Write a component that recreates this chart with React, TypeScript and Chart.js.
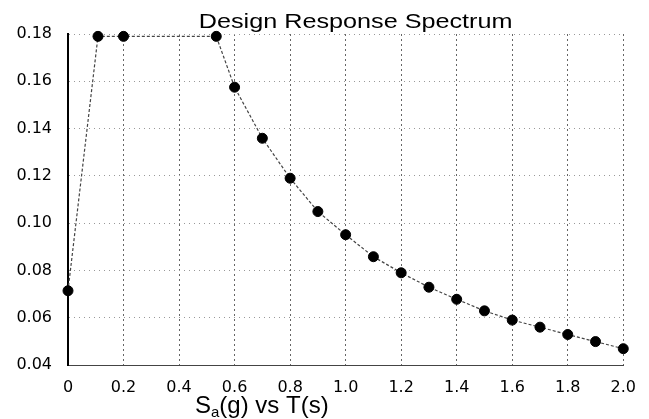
import React, { useEffect, useRef } from 'react';
import { Chart, registerables } from 'chart.js';

Chart.register(...registerables);

const chartTitle = 'Design Response Spectrum';
const periods = [0, 0.108, 0.2, 0.534, 0.6, 0.7, 0.8, 0.9, 1.0, 1.1, 1.2, 1.3, 1.4, 1.5, 1.6, 1.7, 1.8, 1.9, 2.0];
const spectralAcc = [0.0714, 0.179, 0.179, 0.179, 0.1575, 0.1359, 0.119, 0.1049, 0.0951, 0.0858, 0.079, 0.0729, 0.0678, 0.0629, 0.059, 0.056, 0.0529, 0.0499, 0.0469];
const xTickValues = [0, 0.2, 0.4, 0.6, 0.8, 1.0, 1.2, 1.4, 1.6, 1.8, 2.0];
const xTickLabels = ['0', '0.2', '0.4', '0.6', '0.8', '1.0', '1.2', '1.4', '1.6', '1.8', '2.0'];
const yTickValues = [0.04, 0.06, 0.08, 0.1, 0.12, 0.14, 0.16, 0.18];
const yTickLabels = ['0.04', '0.06', '0.08', '0.10', '0.12', '0.14', '0.16', '0.18'];

const textPlugin = {
  id: 'customText',
  afterDraw(chart: any) {
    const ctx = chart.ctx;
    const ca = chart.chartArea;
    ctx.save();
    ctx.fillStyle = '#000';
    ctx.textBaseline = 'alphabetic';
    // title
    ctx.save();
    ctx.font = '21px "Liberation Sans", Arial, sans-serif';
    ctx.textAlign = 'center';
    ctx.translate((ca.left + ca.right) / 2 + 10, ca.top - 6);
    ctx.scale(1.2, 1);
    ctx.fillText(chartTitle, 0, 0);
    ctx.restore();
    // axis label: S_a(g) vs T(s)
    ctx.textAlign = 'left';
    let x = ca.left + 127;
    const base = ca.bottom + 48;
    ctx.font = '24px "Liberation Sans", Arial, sans-serif';
    ctx.fillText('S', x, base);
    x += ctx.measureText('S').width;
    ctx.font = '15px "Liberation Sans", Arial, sans-serif';
    ctx.fillText('a', x, base + 4);
    x += ctx.measureText('a').width;
    ctx.font = '24px "Liberation Sans", Arial, sans-serif';
    ctx.fillText('(g) vs T(s)', x, base);
    ctx.restore();
  },
};

export default function App() {
  const ref = useRef<HTMLCanvasElement | null>(null);
  useEffect(() => {
    if (!ref.current) return;
    const chart = new Chart(ref.current, {
      type: 'line',
      data: {
        datasets: [
          {
            data: periods.map((t, i) => ({ x: t, y: spectralAcc[i] })),
            borderColor: '#444',
            borderWidth: 1.2,
            borderDash: [3, 2],
            pointRadius: 5,
            pointBackgroundColor: '#000',
            pointBorderColor: '#000',
            pointBorderWidth: 1,
            tension: 0,
            clip: false as any,
          },
        ],
      },
      options: {
        responsive: false,
        animation: false,
        layout: { padding: { top: 34, right: 22, left: 0, bottom: 0 } },
        plugins: { legend: { display: false }, title: { display: false }, tooltip: { enabled: false } },
        scales: {
          x: {
            type: 'linear',
            min: 0,
            max: 2,
            afterBuildTicks: (s: any) => {
              s.ticks = xTickValues.map((v) => ({ value: v }));
            },
            afterFit: (s: any) => {
              s.height = 54;
            },
            ticks: {
              callback: (_v: any, i: number) => xTickLabels[i],
              color: '#000',
              font: { family: '"DejaVu Sans", sans-serif', size: 16 },
              padding: 13,
              maxRotation: 0,
              autoSkip: false,
            },
            grid: { color: '#666', lineWidth: 1, drawTicks: false },
            border: { display: true, color: '#444', dash: [2, 3], width: 1 },
          },
          y: {
            type: 'linear',
            min: 0.04,
            max: 0.18,
            afterBuildTicks: (s: any) => {
              s.ticks = yTickValues.map((v) => ({ value: v }));
            },
            afterFit: (s: any) => {
              s.width = 68;
            },
            ticks: {
              callback: (_v: any, i: number) => yTickLabels[i],
              color: '#000',
              font: { family: '"DejaVu Sans", sans-serif', size: 16 },
              padding: 16,
              autoSkip: false,
            },
            grid: { color: '#999', lineWidth: 1, drawTicks: false },
            border: { display: true, color: '#000', dash: [1, 4], width: 2 },
          },
        },
      },
      plugins: [textPlugin],
    } as any);
    return () => chart.destroy();
  }, []);
  return (
    <div style={{ position: 'absolute', left: 0, top: 0, width: 649, height: 419, background: '#fff' }}>
      <canvas ref={ref} width={649} height={419} />
    </div>
  );
}
